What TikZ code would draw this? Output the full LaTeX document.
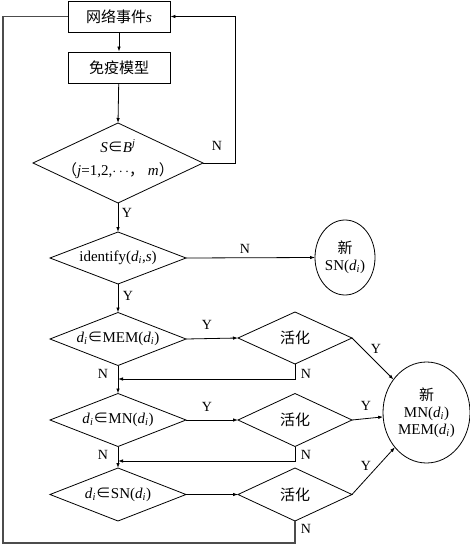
\documentclass[tikz,border=0pt]{standalone}
\usepackage{fontspec}
\setmainfont{Liberation Serif}
\newfontfamily\cjk{Noto Sans CJK SC}
\usetikzlibrary{shapes.geometric,arrows.meta}
\newcommand\myd{\textit{d}\textsubscript{\textit{i}}}
\newcommand\myin{{\cjk ∈}}
\begin{document}
\begin{tikzpicture}[x=1pt,y=-1pt,
  every node/.style={font=\fontsize{15}{17}\selectfont},
  boxnode/.style={draw,line width=0.8pt,minimum width=102pt,minimum height=31pt,inner sep=0pt},
  dia/.style={draw,diamond,line width=0.8pt,inner sep=0pt,outer sep=0pt},
  ell/.style={draw,ellipse,line width=0.8pt,inner sep=0pt,outer sep=0pt},
  lab/.style={font=\fontsize{14}{16}\selectfont,inner sep=0pt},
  conn/.style={line width=0.8pt},
  arr/.style={conn,-{Latex[length=5pt,width=3.5pt]}},
  loopline/.style={line width=1.3pt,black!70}
]
\useasboundingbox (0,0) rectangle (470,545);
% boxes
\node[boxnode] (b1) at (119,16.5) {{\cjk 网络事件}\textit{s}};
\node[boxnode] (b2) at (119,67.5) {\cjk 免疫模型};
% diamonds
\node[dia,minimum width=170pt,minimum height=80pt] (d1) at (118,163) {};
\node (t1a) at (118,146) {\textit{S}\myin\textit{B}\textsuperscript{\textit{j}}};
\node (t1b) at (118,171) {{\cjk （}\textit{j}=1,2,$\cdots${\cjk ，} \textit{m}{\cjk ）}};
\node[dia,minimum width=136pt,minimum height=52pt] (d2) at (118,258) {};
\node at (d2) {identify(\myd,\textit{s})};
\node[dia,minimum width=136pt,minimum height=53pt] (d3) at (118,339) {};
\node at (d3) {\myd\myin MEM(\myd)};
\node[dia,minimum width=136pt,minimum height=53pt] (d4) at (118,420) {};
\node at (d4) {\myd\myin MN(\myd)};
\node[dia,minimum width=136pt,minimum height=53pt] (d5) at (118,494.5) {};
\node at (d5) {\myd\myin SN(\myd)};
% activation diamonds
\node[dia,minimum width=114pt,minimum height=52pt] (h1) at (295,338) {};
\node at (h1) {\cjk 活化};
\node[dia,minimum width=114pt,minimum height=53pt] (h2) at (295,420) {};
\node at (h2) {\cjk 活化};
\node[dia,minimum width=114pt,minimum height=53pt] (h3) at (295,494.5) {};
\node at (h3) {\cjk 活化};
% ellipses
\node[ell,minimum width=60pt,minimum height=75pt] (sn) at (345,257.5) {};
\node[align=center] at (sn) {{\cjk 新}\\SN(\myd)};
\node[ell,minimum width=87pt,minimum height=101pt] (big) at (426.5,412.5) {};
\node[align=center] at (big) {{\cjk 新}\\MN(\myd)\\MEM(\myd)};
% connectors
\draw[arr] (b1) -- (b2);
\draw[arr] (b2) -- (d1.north);
\coordinate (nr) at (235,163);
\draw[arr] (d1.east) -- (nr) |- (b1.east);
\draw[arr] (d1.south) -- (d2.north);
\draw[arr] (d2.east) -- (sn.west);
\draw[arr] (d2.south) -- (d3.north);
\draw[arr] (d3.east) -- (h1.west);
\draw[arr] (d3.south) -- (d4.north);
\draw[arr] (d4.east) -- (h2.west);
\draw[arr] (d4.south) -- (d5.north);
\draw[arr] (d5.east) -- (h3.west);
\draw[arr] (h1.east) -- (big);
\draw[arr] (h2.east) -- (big);
\draw[arr] (h3.east) -- (big);
\coordinate (r1) at (295,379);
\coordinate (r2) at (295,461);
\draw[arr] (h1.south) -- (r1) -- (d3.south |- r1);
\draw[arr] (h2.south) -- (r2) -- (d4.south |- r2);
\coordinate (lb) at (295,543);
\coordinate (ll) at (3,543);
\draw[loopline] (h3.south) -- (lb) -- (ll) |- (b1.west);
% labels
\node[lab] at (217,146) {N};
\node[lab] at (127,213) {Y};
\node[lab] at (245,249) {N};
\node[lab] at (128,296) {Y};
\node[lab] at (207,325) {Y};
\node[lab] at (376,349) {Y};
\node[lab] at (103,374) {N};
\node[lab] at (306,374) {N};
\node[lab] at (207,407) {Y};
\node[lab] at (366,406) {Y};
\node[lab] at (103,455) {N};
\node[lab] at (306,455) {N};
\node[lab] at (366,466) {Y};
\node[lab] at (306,529) {N};
\end{tikzpicture}
\end{document}
